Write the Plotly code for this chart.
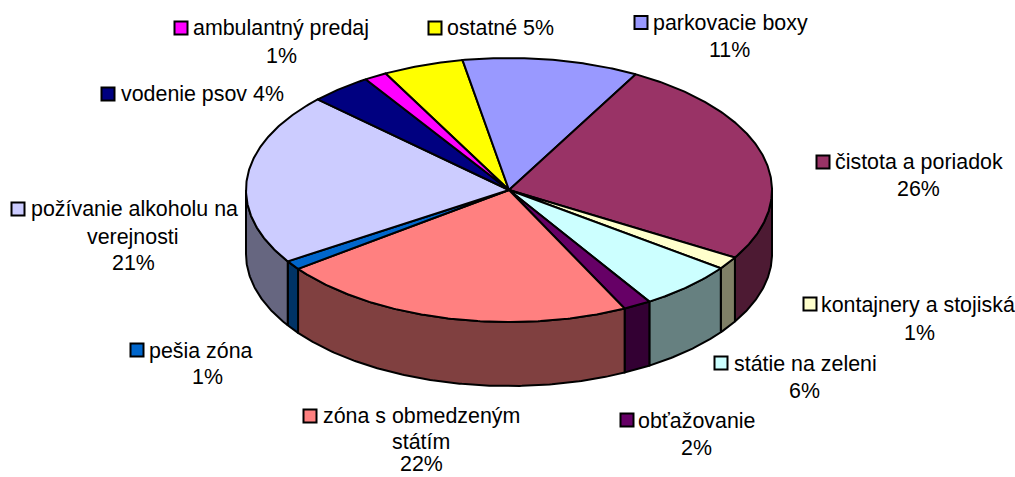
import numpy as np
import plotly.graph_objects as go

categories = ["ostatné", "parkovacie boxy", "čistota a poriadok", "kontajnery a stojiská",
              "státie na zeleni", "obťažovanie", "zóna s obmedzeným státím", "pešia zóna",
              "požívanie alkoholu na verejnosti", "vodenie psov", "ambulantný predaj"]
values = [4.96, 10.85, 25.6, 1.55, 5.95, 1.72, 22.1, 1.1, 21.16, 3.8, 1.4]
top_colors = ["#FFFF00", "#9999FF", "#993366", "#FFFFCC", "#CCFFFF", "#660066",
              "#FF8080", "#0066CC", "#CCCCFF", "#000080", "#FF00FF"]
side_colors = ["#808000", "#4D4D80", "#4D1A33", "#808066", "#668080", "#330033",
               "#804040", "#003366", "#666680", "#000040", "#800080"]

# text line, x, y, anchor
label_lines = [
    ("ambulantný predaj", 193, 28, "left"), ("1%", 281, 56, "center"),
    ("ostatné 5%", 447, 28, "left"),
    ("parkovacie boxy", 653, 23, "left"), ("11%", 729, 50, "center"),
    ("čistota a poriadok", 835, 162, "left"), ("26%", 918, 189, "center"),
    ("kontajnery a stojiská", 821, 305, "left"), ("1%", 919, 333, "center"),
    ("státie na zeleni", 734, 364, "left"), ("6%", 804, 391, "center"),
    ("obťažovanie", 638, 421, "left"), ("2%", 696, 448, "center"),
    ("zóna s obmedzeným", 323, 416, "left"), ("státím", 421, 442, "center"),
    ("22%", 421, 464, "center"),
    ("pešia zóna", 149, 351, "left"), ("1%", 207, 377, "center"),
    ("požívanie alkoholu na", 31, 209, "left"), ("verejnosti", 133, 237, "center"),
    ("21%", 133, 263, "center"),
    ("vodenie psov 4%", 121, 94, "left"),
]
swatch_x = [435, 641, 823, 810, 721, 627, 310, 137, 18, 108, 181]
swatch_y = [28, 22.5, 162, 304, 363, 420, 416, 350, 209, 94, 28]

CX, CY, RX, RY, DEPTH = 509, 190, 263, 132, 64
START = 332.0


def arc(a0, a1, n=None):
    n = n or max(3, int(abs(a1 - a0)) * 2)
    t = np.radians(np.linspace(a0, a1, n))
    return CX + RX * np.sin(t), CY - RY * np.cos(t)


fig = go.Figure()
total = sum(values)
edges = START + np.concatenate([[0], np.cumsum(values)]) * 360 / total
line = dict(color="black", width=2)

# side walls: only the front half of the rim (90..270 deg clockwise from top)
for k in (0, 1):
    for a0, a1, col in zip(edges[:-1], edges[1:], side_colors):
        lo, hi = max(a0, 90 + 360 * k), min(a1, 270 + 360 * k)
        if hi <= lo:
            continue
        x, y = arc(lo, hi)
        fig.add_trace(go.Scatter(
            x=np.concatenate([x, x[::-1], x[:1]]),
            y=np.concatenate([y, y[::-1] + DEPTH, y[:1]]),
            mode="lines", fill="toself", fillcolor=col, line=line, hoverinfo="skip"))

# top face
for a0, a1, col in zip(edges[:-1], edges[1:], top_colors):
    x, y = arc(a0, a1)
    fig.add_trace(go.Scatter(
        x=np.concatenate([[CX], x, [CX]]),
        y=np.concatenate([[CY], y, [CY]]),
        mode="lines", fill="toself", fillcolor=col, line=line, hoverinfo="skip"))

# legend-key swatches
fig.add_trace(go.Scatter(
    x=swatch_x, y=swatch_y, mode="markers", hoverinfo="skip",
    marker=dict(symbol="square", size=13, color=top_colors,
                line=dict(color="black", width=2))))

for text, x, y, anchor in label_lines:
    fig.add_annotation(x=x, y=y, text=text, showarrow=False, xanchor=anchor, yanchor="middle",
                       xref="x", yref="y", borderpad=0, borderwidth=0,
                       font=dict(family="Liberation Sans", size=21.4, color="black"))

fig.update_layout(
    width=1015, height=477, margin=dict(l=0, r=0, t=0, b=0), showlegend=False,
    paper_bgcolor="white", plot_bgcolor="white",
    xaxis=dict(range=[0, 1015], visible=False, fixedrange=True),
    yaxis=dict(range=[477, 0], visible=False, fixedrange=True),
)
fig.write_html("out.html", config=dict(displayModeBar=False),
               post_script="document.body.style.margin='0';document.documentElement.style.overflow='hidden';")
